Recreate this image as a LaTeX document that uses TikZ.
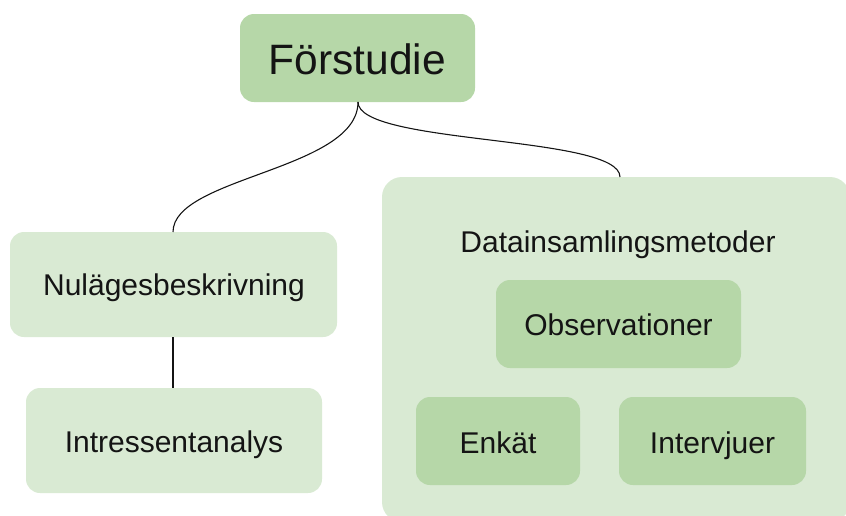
\documentclass[tikz,border=0pt]{standalone}
\usepackage{fontspec}
\setmainfont{Liberation Sans}
\definecolor{boxdark}{HTML}{B6D7A8}
\definecolor{boxlight}{HTML}{D9EAD3}
\definecolor{ink}{HTML}{141414}
\begin{document}
\begin{tikzpicture}[x=1pt,y=-1pt,
  panel/.style={fill=boxlight, draw=none, rounded corners=14pt},
  inner/.style={fill=boxdark, draw=none, rounded corners=14pt},
  label/.style={font=\fontsize{30}{34}\selectfont, text=ink, inner sep=0pt, anchor=base},
  link/.style={draw=ink, line width=1.1pt}]
  \useasboundingbox (0,0) rectangle (846,515);
  \begin{scope}
    \clip (0,0) rectangle (846,515);
    % outer boxes
    \path[panel] (10,232) rectangle (337,337);
    \path[panel] (26,388) rectangle (322,493);
    \path[panel, rounded corners=20pt] (382,177) rectangle (850,522);
    % darker boxes
    \path[inner] (240,14) rectangle (475,102);
    \path[inner] (496,280) rectangle (741,368);
    \path[inner] (416,397) rectangle (580,485);
    \path[inner] (619,397) rectangle (806,485);
  \end{scope}
  % anchor points on the box edges
  \coordinate (fs) at (358,102);
  \coordinate (nt) at (173,232);
  \coordinate (nb) at (173,337);
  \coordinate (it) at (173,388);
  \coordinate (dt) at (620,177);
  % labels, placed on their baselines
  \node[label, font=\fontsize{42.5}{46}\selectfont] (forstudie) at (357.5,74) {Förstudie};
  \node[label] (nulage) at (174,295) {Nulägesbeskrivning};
  \node[label] (intressent) at (174,452) {Intressentanalys};
  \node[label] (data) at (618,252) {Datainsamlingsmetoder};
  \node[label] (obs) at (618.5,335) {Observationer};
  \node[label] (enkat) at (498,453) {Enkät};
  \node[label] (intervju) at (712.5,453) {Intervjuer};
  % connectors
  \draw[link] (fs) .. controls (358,170) and (173,177) .. (nt);
  \draw[link] (fs) .. controls (358,145) and (620,135) .. (dt);
  \draw[link] (nb) -- (it);
\end{tikzpicture}
\end{document}
